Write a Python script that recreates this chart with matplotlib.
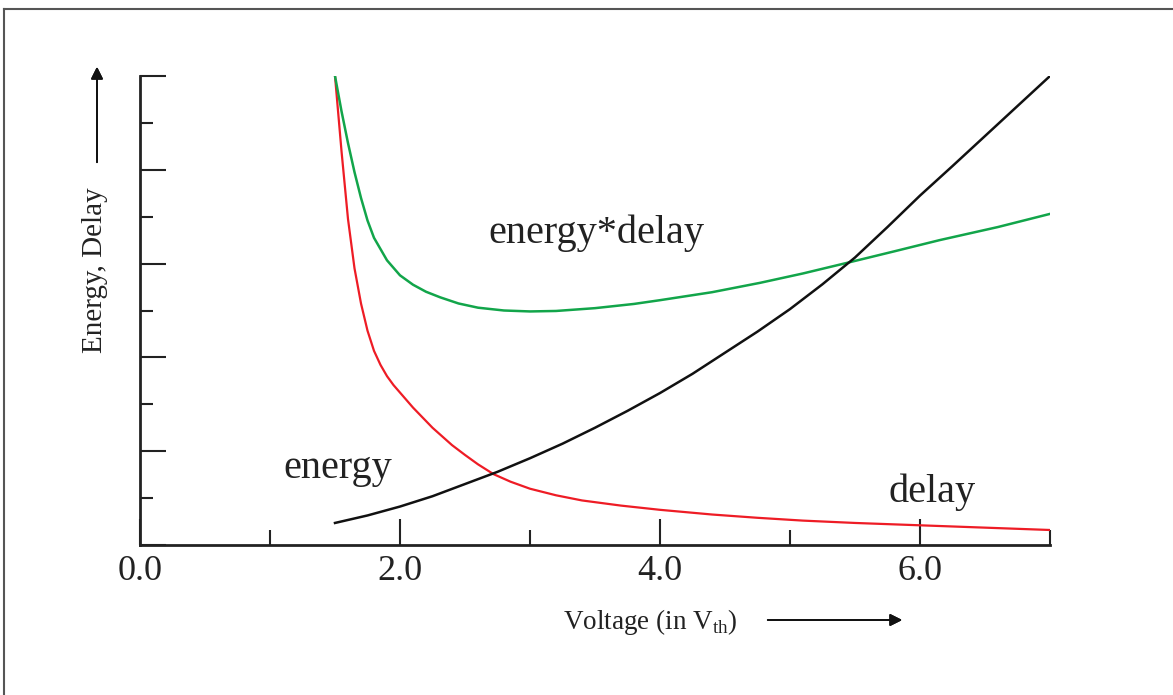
import numpy as np
import matplotlib
matplotlib.use("Agg")
import matplotlib.pyplot as plt
from matplotlib.lines import Line2D
from matplotlib.ticker import MultipleLocator, FixedLocator

plt.rcParams['font.family'] = ['Liberation Serif', 'DejaVu Serif']
plt.rcParams['mathtext.fontset'] = 'custom'
plt.rcParams['mathtext.rm'] = 'Liberation Serif'

# values (x in V_th, y in tick units 0..10)
x_red = [1.5, 1.55, 1.6, 1.65, 1.7, 1.75, 1.8, 1.85, 1.9, 1.95, 2.0, 2.1, 2.25, 2.4, 2.5, 2.6,
         2.72, 2.85, 3.0, 3.2, 3.4, 3.7, 4.0, 4.4, 4.75, 5.1, 5.5, 6.0, 6.5, 7.0]
y_red = [10.0, 8.4, 6.95, 5.9, 5.15, 4.57, 4.14, 3.84, 3.6, 3.41, 3.25, 2.93, 2.5, 2.13, 1.92, 1.72,
         1.51, 1.35, 1.2, 1.06, 0.95, 0.84, 0.75, 0.65, 0.58, 0.52, 0.47, 0.42, 0.37, 0.32]

x_green = [1.5, 1.55, 1.6, 1.65, 1.7, 1.75, 1.8, 1.9, 2.0, 2.1, 2.2, 2.31, 2.45, 2.6, 2.8,
           3.0, 3.2, 3.5, 3.8, 4.0, 4.4, 4.77, 5.1, 5.46, 5.8, 6.15, 6.6, 7.0]
y_green = [10.0, 9.25, 8.57, 7.95, 7.4, 6.92, 6.55, 6.07, 5.75, 5.55, 5.4, 5.28, 5.15, 5.06, 5.0,
           4.98, 4.99, 5.05, 5.14, 5.22, 5.39, 5.59, 5.79, 6.03, 6.26, 6.5, 6.78, 7.06]

x_black = [1.5, 1.75, 2.0, 2.25, 2.5, 2.75, 3.0, 3.25, 3.5, 3.75, 4.0, 4.25, 4.5, 4.75,
           5.0, 5.25, 5.5, 5.75, 6.0, 6.25, 6.5, 6.75, 7.0]
y_black = [0.47, 0.63, 0.82, 1.04, 1.3, 1.56, 1.85, 2.16, 2.5, 2.86, 3.24, 3.65, 4.1, 4.55,
           5.03, 5.56, 6.13, 6.78, 7.45, 8.08, 8.72, 9.36, 10.0]

xtick_pos = [0, 2, 4, 6]
xtick_labels = ['0.0', '2.0', '4.0', '6.0']

W, H = 1173, 695
fig = plt.figure(figsize=(W / 100, H / 100), dpi=100)
ax = fig.add_axes([140 / W, 1 - 545 / H, 910 / W, 469 / H])

ax.plot(x_red, y_red, color='#ee1c25', lw=1.6)
ax.plot(x_green, y_green, color='#12a54a', lw=1.8)
ax.plot(x_black, y_black, color='#111111', lw=1.8)

ax.set_xlim(0, 7)
ax.set_ylim(0, 10)
for s in ['top', 'right']:
    ax.spines[s].set_visible(False)
for s in ['left', 'bottom']:
    ax.spines[s].set_linewidth(2.0)
    ax.spines[s].set_color('#222222')

ax.xaxis.set_major_locator(FixedLocator(xtick_pos))
ax.set_xticklabels(xtick_labels)
ax.xaxis.set_minor_locator(FixedLocator([1, 3, 5, 7]))
ax.yaxis.set_major_locator(MultipleLocator(2))
ax.yaxis.set_minor_locator(FixedLocator([1, 3, 5, 7, 9]))
ax.set_yticklabels([])
ax.tick_params(axis='x', which='major', direction='in', length=19, width=1.5, color='#222222',
               labelsize=26, pad=7, labelcolor='#222222')
ax.tick_params(axis='x', which='minor', direction='in', length=11, width=1.5, color='#222222')
ax.tick_params(axis='y', which='major', direction='in', length=19, width=1.5, color='#222222')
ax.tick_params(axis='y', which='minor', direction='in', length=9.5, width=1.5, color='#222222')

# curve labels
ax.text(3.51, 6.65, 'energy*delay', fontsize=29, ha='center', va='center', color='#222222')
ax.text(1.52, 1.64, 'energy', fontsize=29, ha='center', va='center', color='#222222')
ax.text(6.09, 1.13, 'delay', fontsize=29, ha='center', va='center', color='#222222')

# axis labels with arrows
fig.text(563 / W, 1 - 622 / H, r'Voltage (in V$_{\mathrm{th}}$)', fontsize=19.5,
         ha='left', va='center', color='#222222')
fig.add_artist(plt.annotate('', xy=(905, H - 620), xytext=(765, H - 620),
                            xycoords='figure pixels', textcoords='figure pixels',
                            arrowprops=dict(arrowstyle='-|>', color='#111111', lw=1.3,
                                            mutation_scale=18)))
fig.text(95 / W, 1 - 270 / H, 'Energy, Delay', fontsize=21, rotation=90,
         ha='center', va='center', color='#222222')
fig.add_artist(plt.annotate('', xy=(97, H - 64), xytext=(97, H - 165),
                            xycoords='figure pixels', textcoords='figure pixels',
                            arrowprops=dict(arrowstyle='-|>', color='#111111', lw=1.3,
                                            mutation_scale=18)))

# outer frame (left and top edges)
fig.add_artist(Line2D([4 / W, 4 / W], [0, 1 - 9 / H], transform=fig.transFigure,
                      color='#555555', lw=1.5))
fig.add_artist(Line2D([4 / W, 1], [1 - 9 / H, 1 - 9 / H], transform=fig.transFigure,
                      color='#555555', lw=1.5))

fig.savefig('out.png', dpi=100)
